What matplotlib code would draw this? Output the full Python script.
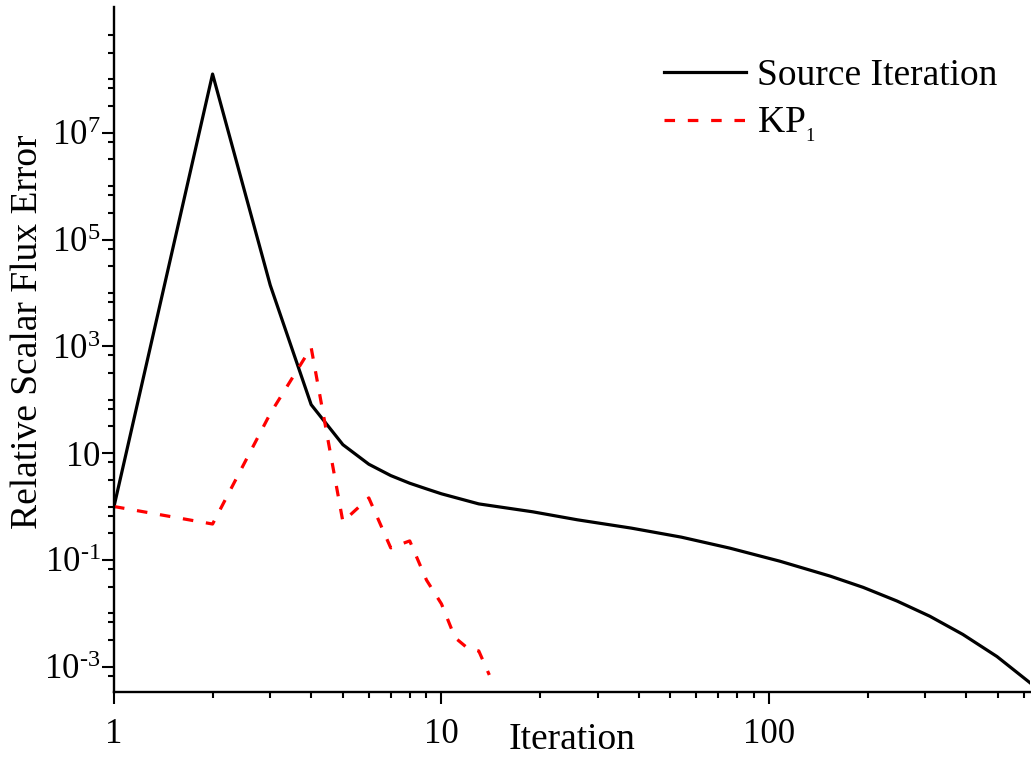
import matplotlib
matplotlib.use('Agg')
import matplotlib.pyplot as plt
import numpy as np
from matplotlib.ticker import FixedLocator, FixedFormatter, NullFormatter

plt.rcParams['font.family'] = ['Liberation Serif', 'DejaVu Serif']
plt.rcParams['mathtext.fontset'] = 'custom'
plt.rcParams['mathtext.rm'] = 'Liberation Serif'
plt.rcParams['mathtext.it'] = 'Liberation Serif:italic'

# source iteration : erreur relative du flux scalaire
si_iter = [1, 2, 3, 4, 5, 6, 7, 8, 9, 10, 13, 19, 26, 38, 54, 76, 108, 154, 194, 246, 310, 391,
           497, 627]
si_err = [1.0, 1.26e8, 1.4e4, 81, 14.4, 6.2, 3.8, 2.73, 2.14, 1.73, 1.12, 0.796, 0.564, 0.394,
          0.267, 0.166, 0.0946, 0.0496, 0.0306, 0.0170, 0.00881, 0.00402, 0.00155, 5.0e-4]

# KP1
kp_iter = [1, 2, 3, 4, 5, 6, 7, 8, 9, 10, 11, 12, 13, 14]
kp_err = [1.0, 0.47, 55, 950, 0.52, 1.45, 0.168, 0.227, 0.042, 0.015, 3.5e-3, 2.24e-3, 1.97e-3, 7.0e-4]

x_major = [1, 10, 100]
x_labels = ['1', '10', '100']
y_major = [1e-3, 1e-1, 1e1, 1e3, 1e5, 1e7]
y_labels = [r'$10^{\text{-}3}$', r'$10^{\text{-}1}$', r'$10$', r'$10^{3}$', r'$10^{5}$', r'$10^{7}$']

fig = plt.figure(figsize=(10.31, 7.6), dpi=100)
ax = fig.add_axes([114/1031, 68.3/760, 916/1031, 685/760])

ax.plot(si_iter, si_err, color='black', lw=2.3, label='Source Iteration')
ax.plot(kp_iter, kp_err, color='red', lw=2.3, ls=(0, (3.3, 4.0)), label=r'KP$_{{}_{1}}$')

ax.set_xscale('log')
ax.set_yscale('log')
ax.set_xlim(1, 627)
ax.set_ylim(3.4e-4, 2.3e9)

for s in ['top', 'right']:
    ax.spines[s].set_visible(False)
for s in ['left', 'bottom']:
    ax.spines[s].set_linewidth(1.7)

# ticks
ax.xaxis.set_major_locator(FixedLocator(x_major))
ax.xaxis.set_major_formatter(FixedFormatter(x_labels))
xminor = [m * 10**e for e in range(0, 3) for m in range(2, 10)]
ax.xaxis.set_minor_locator(FixedLocator(xminor))
ax.xaxis.set_minor_formatter(NullFormatter())

ax.yaxis.set_major_locator(FixedLocator(y_major))
ax.yaxis.set_major_formatter(FixedFormatter(y_labels))
yminor = []
for n in range(-4, 9):
    if n % 2 == 0:
        yminor.append(10.0**n)
    yminor.append(10.0**(n + 0.5))
    yminor.append(10.0**(n + 0.83))
ax.yaxis.set_minor_locator(FixedLocator(yminor))
ax.yaxis.set_minor_formatter(NullFormatter())

ax.tick_params(which='major', length=8.6, width=1.5, labelsize=25)
ax.tick_params(which='minor', length=4.3, width=1.5)
ax.tick_params(axis='x', which='major', pad=10)
ax.tick_params(axis='y', which='major', pad=1)

ax.set_xlabel('Iteration', fontsize=27)
ax.xaxis.set_label_coords(0.5, -0.045)
ax.set_ylabel('Relative Scalar Flux Error', fontsize=27)
ax.yaxis.set_label_coords(-0.075, 0.525)

ax.legend(loc='upper left', bbox_to_anchor=(0.6, 0.924), frameon=False, fontsize=27,
          handlelength=2.2, handletextpad=0.3, labelspacing=0.33, borderpad=0, borderaxespad=0)

fig.savefig('out.png', dpi=100)
